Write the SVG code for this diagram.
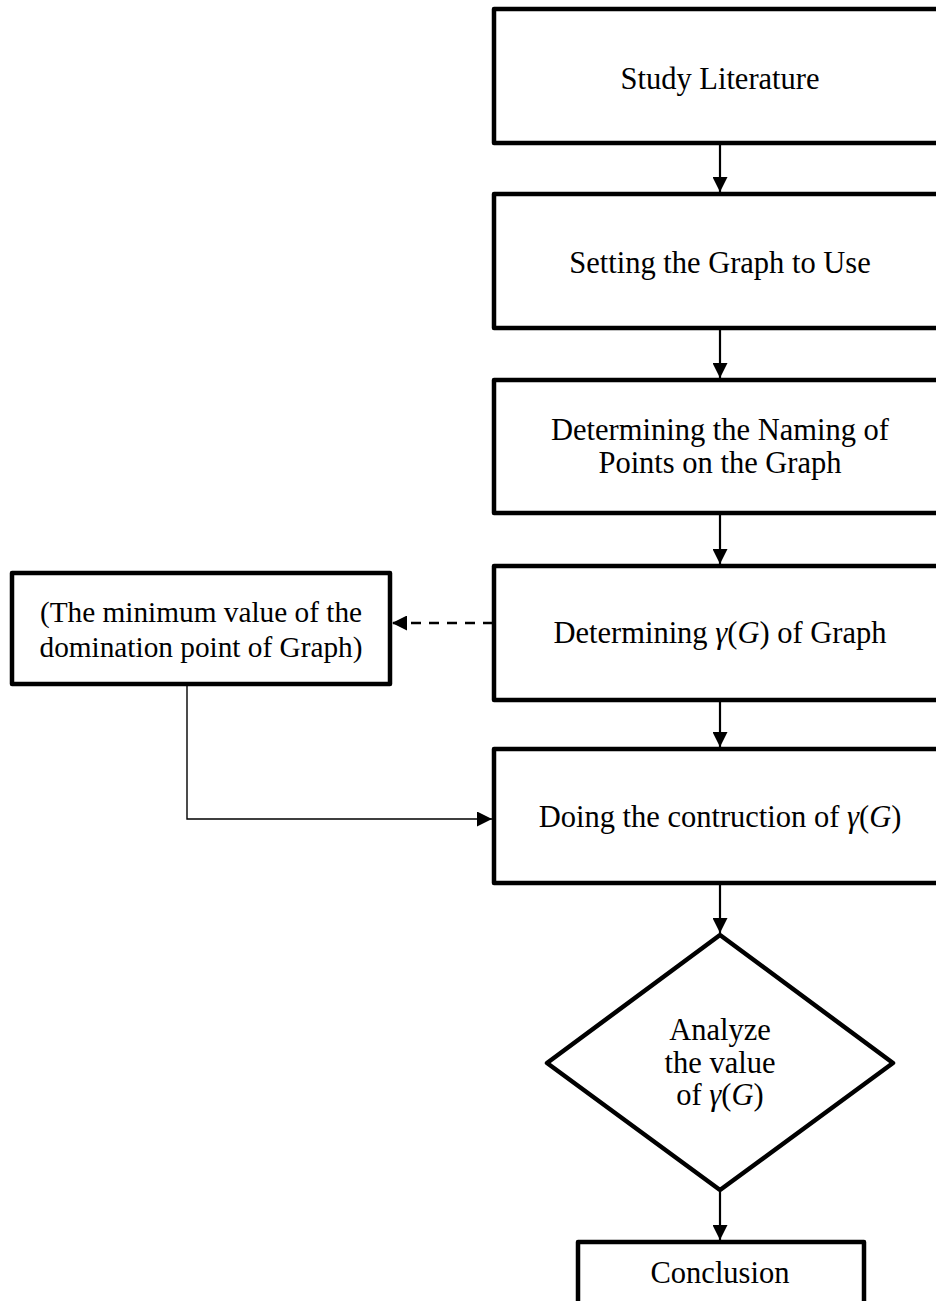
<svg xmlns="http://www.w3.org/2000/svg" width="936" height="1301" viewBox="0 0 936 1301">
<style>
.box{fill:#fff;stroke:#000;stroke-width:4.5;stroke-linejoin:round}
.t{font-family:"Liberation Serif","DejaVu Serif",serif;font-size:30.5px;fill:#000;text-anchor:middle}
.tl{font-family:"Liberation Serif","DejaVu Serif",serif;font-size:29.3px;fill:#000;text-anchor:middle}
.m{font-style:italic}
.c{fill:none;stroke:#000;stroke-width:2.2}
.c2{fill:none;stroke:#000;stroke-width:1.4}
.d{fill:none;stroke:#000;stroke-width:2.4;stroke-dasharray:10,8}
</style>
<defs>
<marker id="ah" viewBox="0 0 10 10" refX="10" refY="5" markerWidth="15" markerHeight="15" markerUnits="userSpaceOnUse" orient="auto">
<path d="M0,0 L10,5 L0,10 z" fill="#000"/>
</marker>
</defs>
<g id="connectors">
<line class="c" x1="720" y1="145" x2="720" y2="192" marker-end="url(#ah)"/>
<line class="c" x1="720" y1="330" x2="720" y2="378" marker-end="url(#ah)"/>
<line class="c" x1="720" y1="515" x2="720" y2="564" marker-end="url(#ah)"/>
<line class="c" x1="720" y1="702" x2="720" y2="747" marker-end="url(#ah)"/>
<line class="c" x1="720" y1="885" x2="720" y2="933" marker-end="url(#ah)"/>
<line class="c" x1="720" y1="1192" x2="720" y2="1240" marker-end="url(#ah)"/>
<line class="d" x1="493" y1="623" x2="392" y2="623" marker-end="url(#ah)"/>
<polyline class="c2" points="187,685 187,819 492,819" marker-end="url(#ah)"/>
</g>
<g id="n1"><rect class="box" x="494" y="9" width="460" height="134"/><text class="t" x="720" y="89">Study Literature</text></g>
<g id="n2"><rect class="box" x="494" y="194" width="460" height="134"/><text class="t" x="720" y="273">Setting the Graph to Use</text></g>
<g id="n3"><rect class="box" x="494" y="380" width="460" height="133"/><text class="t" x="720" y="440">Determining the Naming of</text><text class="t" x="720" y="473">Points on the Graph</text></g>
<g id="n4"><rect class="box" x="494" y="566" width="460" height="134"/><text class="t" x="720" y="643">Determining <tspan class="m">γ</tspan>(<tspan class="m">G</tspan>) of Graph</text></g>
<g id="n5"><rect class="box" x="494" y="749" width="460" height="134"/><text class="t" x="720" y="827">Doing the contruction of <tspan class="m">γ</tspan>(<tspan class="m">G</tspan>)</text></g>
<g id="n6"><rect class="box" x="12" y="573" width="378" height="111"/><text class="tl" x="201" y="622">(The minimum value of the</text><text class="tl" x="201" y="657">domination point of Graph)</text></g>
<g id="n7"><polygon class="box" points="720,935 893,1063 720,1190 547,1063"/><text class="t" x="720" y="1040">Analyze</text><text class="t" x="720" y="1073">the value</text><text class="t" x="720" y="1105">of <tspan class="m">γ</tspan>(<tspan class="m">G</tspan>)</text></g>
<g id="n8"><rect class="box" x="578" y="1242" width="286" height="80"/><text class="t" x="720" y="1283">Conclusion</text></g>
</svg>
